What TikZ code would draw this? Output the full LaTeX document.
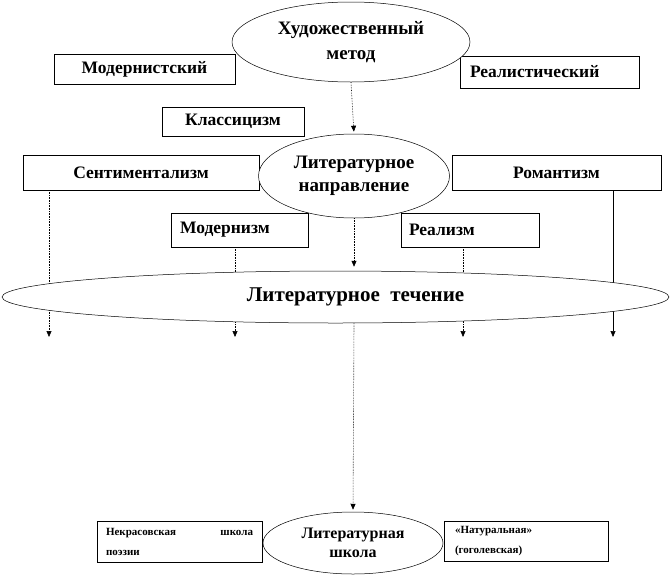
\documentclass[tikz,border=0pt]{standalone}
\usepackage{fontspec}
\setmainfont{Liberation Serif}
\usetikzlibrary{shapes.geometric,arrows.meta}
\begin{document}
\begin{tikzpicture}[x=1pt,y=-1pt,
  box/.style={draw=black,line width=0.5pt,fill=white,inner sep=0pt,
    font=\bfseries\fontsize{17.5}{20}\selectfont},
  smallbox/.style={box,font=\bfseries\fontsize{11}{20}\selectfont},
  oval/.style={ellipse,draw=black,line width=0.5pt,fill=white,inner sep=0pt,align=center},
  conn/.style={line width=0.6pt,densely dotted,-{Triangle[length=6pt,width=5pt]}},
  solidconn/.style={line width=0.6pt,-{Triangle[length=6pt,width=5pt]}}]
\useasboundingbox (0,0) rectangle (671,581);

% free arrow ends
\coordinate (e1) at (49,337);
\coordinate (e2) at (235,337);
\coordinate (e3) at (463,337);
\coordinate (e4) at (613,337);

% boxes of the first levels
\node[box,minimum width=181pt,minimum height=30pt] (modst) at (144.5,69) {Модернистский};
\node[box,minimum width=179pt,minimum height=32pt,text width=159pt,align=left] (real) at (549.5,72) {Реалистический};
\node[box,minimum width=142pt,minimum height=29pt] (klass) at (233,121.5) {Классицизм};
\node[box,minimum width=236pt,minimum height=35pt] (sent) at (141,172.5) {Сентиментализм};
\node[box,minimum width=209pt,minimum height=35pt] (rom) at (556.5,172.5) {Романтизм};
\node[box,minimum width=137pt,minimum height=34pt,text width=119pt,align=left] (modn) at (239.5,230) {Модернизм};
\node[box,minimum width=138pt,minimum height=34pt,text width=122pt,align=left] (realz) at (470,230) {Реализм};

\node[oval,minimum width=238pt,minimum height=80pt,font=\bfseries\fontsize{19}{25}\selectfont] (art) at (351,42) {Художественный\\метод};
\node[oval,minimum width=191pt,minimum height=84pt,font=\bfseries\fontsize{19}{23}\selectfont] (dir) at (354,176) {Литературное\\направление};

% connectors behind the wide oval
\draw[conn] (sent.south -| e1) -- (e1);
\draw[conn] (modn.south -| e2) -- (e2);
\draw[conn] (realz.south -| e3) -- (e3);
\draw[solidconn] (rom.south -| e4) -- (e4);

\node[oval,minimum width=667pt,minimum height=52pt,font=\bfseries\fontsize{21}{23}\selectfont] (flow) at (335.5,297) {\hspace*{40pt}Литературное\ \ течение};

\node[oval,minimum width=180pt,minimum height=62pt,font=\bfseries\fontsize{16}{19}\selectfont] (school) at (353,543) {Литературная\\школа};
\node[smallbox,minimum width=165pt,minimum height=41pt,text width=147pt,align=left] (nekr) at (179.5,541.5) {Некрасовская\hfill школа\\поэзии};
\node[smallbox,minimum width=164pt,minimum height=40pt,text width=142pt,align=left] (nat) at (526,541) {«Натуральная»\\(гоголевская)};

\draw[conn,shorten >=2pt] (art.south) -- (dir.north);
\draw[conn,shorten >=4pt] (dir.south) -- (dir.south |- flow.north);
\draw[conn,shorten >=2pt] (dir.south |- flow.south) -- (school.north);
\end{tikzpicture}
\end{document}
